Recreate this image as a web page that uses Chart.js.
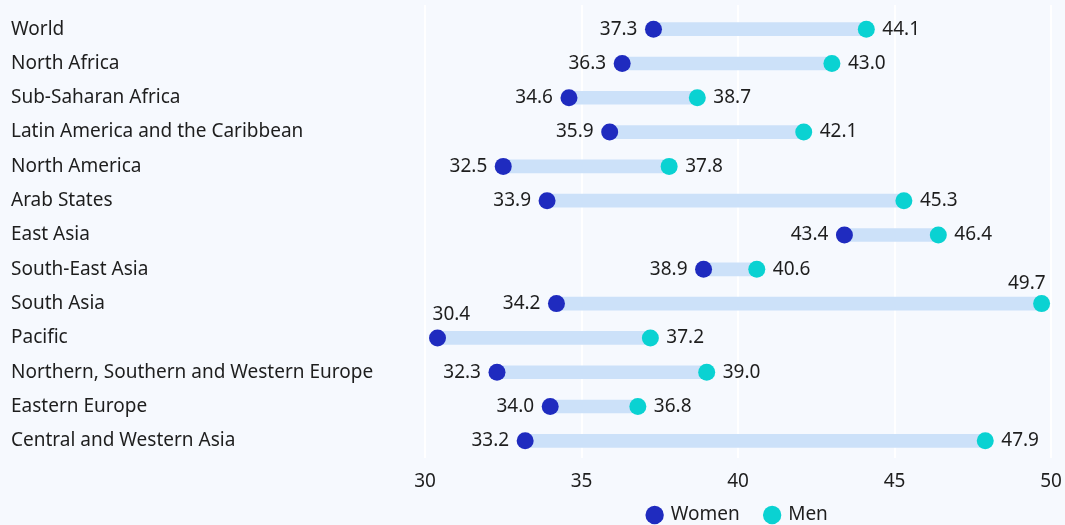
<!DOCTYPE html>
<html>
<head>
<meta charset="utf-8">
<script src="https://cdn.jsdelivr.net/npm/chart.js@4"></script>
<style>
  html, body { margin: 0; padding: 0; background: #f6f9fe; }
  #wrap { width: 1065px; height: 525px; }
</style>
</head>
<body>
<div id="wrap"><canvas id="c" width="1065" height="525"></canvas></div>
<script>
const categories = [
  "World", "North Africa", "Sub-Saharan Africa", "Latin America and the Caribbean",
  "North America", "Arab States", "East Asia", "South-East Asia", "South Asia",
  "Pacific", "Northern, Southern and Western Europe", "Eastern Europe", "Central and Western Asia"
];
const women = [37.3, 36.3, 34.6, 35.9, 32.5, 33.9, 43.4, 38.9, 34.2, 30.4, 32.3, 34.0, 33.2];
const men   = [44.1, 43.0, 38.7, 42.1, 37.8, 45.3, 46.4, 40.6, 49.7, 37.2, 39.0, 36.8, 47.9];
const xTicks = [30, 35, 40, 45, 50];

const FONT = '"Noto Sans", "Open Sans", sans-serif';
const FS = 19;
const TEXT = '#1e1e1e';
const WOMEN_COLOR = '#1f2bbf';
const MEN_COLOR = '#0ad2d2';
const BAR_COLOR = '#cce1f9';

const gridPlugin = {
  id: 'grid',
  beforeDraw(chart) {
    const lg = chart.legend;
    if (lg && lg._origTop === undefined) {
      lg._origTop = lg.top; lg._origBottom = lg.bottom;
    }
    if (lg) { lg.top = lg._origTop - 18.5; lg.bottom = lg._origBottom - 18.5; }
  },
  beforeDatasetsDraw(chart) {
    const ctx = chart.ctx, xs = chart.scales.x, area = chart.chartArea;
    ctx.save();
    ctx.strokeStyle = '#ffffff';
    ctx.lineWidth = 2;
    xTicks.forEach(v => {
      const px = Math.round(xs.getPixelForValue(v));
      ctx.beginPath();
      ctx.moveTo(px, area.top - 7);
      ctx.lineTo(px, area.bottom);
      ctx.stroke();
    });
    ctx.restore();
  }
};

const labelPlugin = {
  id: 'vlabels',
  afterDatasetsDraw(chart) {
    const ctx = chart.ctx;
    ctx.save();
    ctx.font = FS + 'px ' + FONT;
    ctx.fillStyle = TEXT;
    ctx.textBaseline = 'middle';
    const wMeta = chart.getDatasetMeta(1), mMeta = chart.getDatasetMeta(2);
    const xs = chart.scales.x;
    categories.forEach((c, i) => {
      const wp = wMeta.data[i], mp = mMeta.data[i];
      const wTxt = women[i].toFixed(1), mTxt = men[i].toFixed(1);
      if (wp.x - xs.left < 30) {
        ctx.textAlign = 'left';
        ctx.fillText(wTxt, wp.x - 5, wp.y - 23);
      } else {
        ctx.textAlign = 'right';
        ctx.fillText(wTxt, wp.x - 16, wp.y);
      }
      if (xs.right - mp.x < 30) {
        ctx.textAlign = 'right';
        ctx.fillText(mTxt, mp.x + 4, mp.y - 20);
      } else {
        ctx.textAlign = 'left';
        ctx.fillText(mTxt, mp.x + 16, mp.y);
      }
    });
    ctx.restore();
  }
};

new Chart(document.getElementById('c'), {
  data: {
    labels: categories,
    datasets: [
      {
        type: 'bar',
        label: 'range',
        data: women.map((w, i) => [w, men[i]]),
        backgroundColor: BAR_COLOR,
        barThickness: 13,
        borderWidth: 0,
        indexAxis: 'y',
        order: 3
      },
      {
        type: 'line',
        label: 'Women',
        data: women.map((w, i) => ({ x: w, y: categories[i] })),
        showLine: false,
        pointRadius: 8.5,
        pointHoverRadius: 8.5,
        pointBackgroundColor: WOMEN_COLOR,
        pointBorderWidth: 0,
        backgroundColor: WOMEN_COLOR,
        borderColor: WOMEN_COLOR,
        indexAxis: 'y',
        order: 1
      },
      {
        type: 'line',
        label: 'Men',
        data: men.map((m, i) => ({ x: m, y: categories[i] })),
        showLine: false,
        pointRadius: 8.5,
        pointHoverRadius: 8.5,
        pointBackgroundColor: MEN_COLOR,
        pointBorderWidth: 0,
        backgroundColor: MEN_COLOR,
        borderColor: MEN_COLOR,
        indexAxis: 'y',
        order: 2
      }
    ]
  },
  options: {
    indexAxis: 'y',
    responsive: false,
    animation: false,
    events: [],
    layout: { padding: { left: 11, right: 14, top: 12, bottom: -28 } },
    scales: {
      x: {
        type: 'linear',
        min: 30, max: 50,
        afterBuildTicks(scale) { scale.ticks = xTicks.map(v => ({ value: v })); },
        afterFit(scale) { scale.height = 40; scale.paddingLeft = 0; scale.paddingRight = 0; },
        grid: { display: false },
        border: { display: false },
        ticks: { font: { family: FONT, size: FS }, color: TEXT, padding: 4 }
      },
      y: {
        type: 'category',
        labels: categories,
        offset: true,
        grid: { display: false },
        border: { display: false },
        afterFit(scale) { scale.width = 414; },
        ticks: { font: { family: FONT, size: FS }, color: TEXT, crossAlign: 'far', padding: 0 }
      }
    },
    plugins: {
      legend: {
        position: 'bottom',
        fullSize: false,
        labels: {
          filter: item => item.text !== 'range',
          usePointStyle: true,
          pointStyle: 'circle',
          boxWidth: 13,
          boxHeight: 13,
          font: { family: FONT, size: FS },
          color: TEXT,
          padding: 26
        }
      },
      tooltip: { enabled: false }
    }
  },
  plugins: [gridPlugin, labelPlugin]
});
</script>
</body>
</html>
